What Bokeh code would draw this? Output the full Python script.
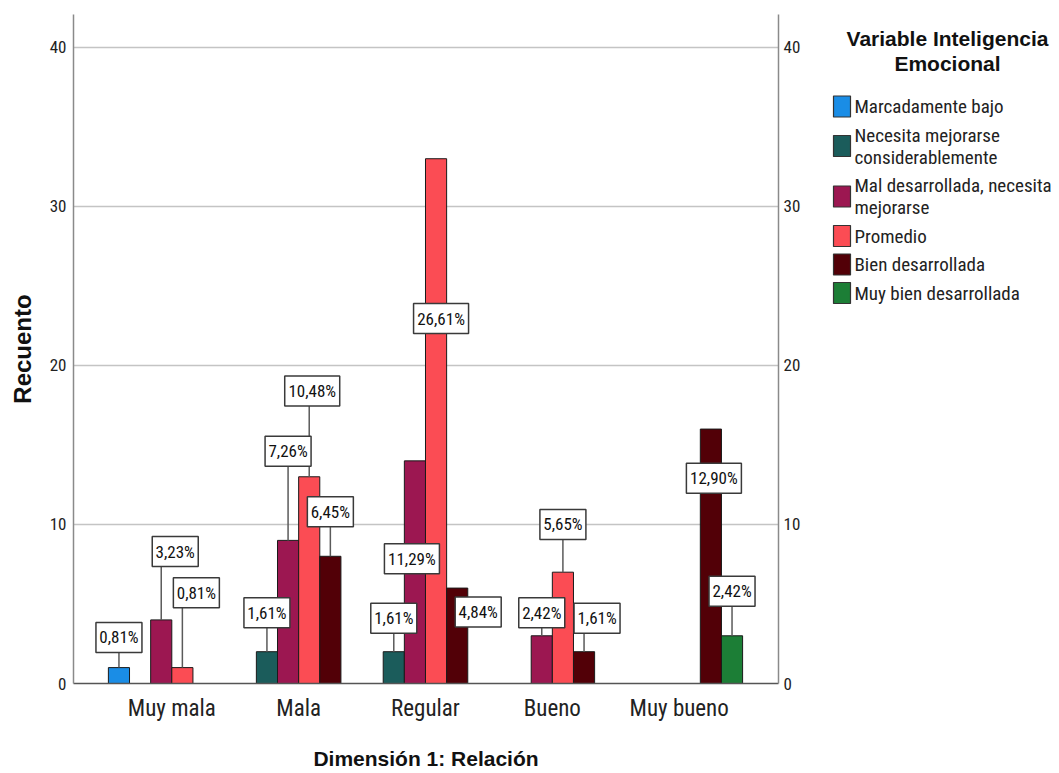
from bokeh.plotting import figure
from bokeh.models import Range1d, LinearAxis, FixedTicker, ColumnDataSource
from bokeh.layouts import row
from bokeh.embed import file_html
from bokeh.resources import INLINE
from bokeh.core.properties import value

# ---------------- data ----------------
categories = ["Muy mala", "Mala", "Regular", "Bueno", "Muy bueno"]
series_names = [
    "Marcadamente bajo",
    "Necesita mejorarse considerablemente",
    "Mal desarrollada, necesita mejorarse",
    "Promedio",
    "Bien desarrollada",
    "Muy bien desarrollada",
]
legend_lines = [
    ["Marcadamente bajo"],
    ["Necesita mejorarse", "considerablemente"],
    ["Mal desarrollada, necesita", "mejorarse"],
    ["Promedio"],
    ["Bien desarrollada"],
    ["Muy bien desarrollada"],
]
# counts per category (0 = no bar)
marcadamente_bajo = [1, 0, 0, 0, 0]
necesita_mejorarse = [0, 2, 2, 0, 0]
mal_desarrollada = [4, 9, 14, 3, 0]
promedio = [1, 13, 33, 7, 0]
bien_desarrollada = [0, 8, 6, 2, 16]
muy_bien_desarrollada = [0, 0, 0, 0, 3]
series_values = [marcadamente_bajo, necesita_mejorarse, mal_desarrollada,
                 promedio, bien_desarrollada, muy_bien_desarrollada]
y_ticks = [0, 10, 20, 30, 40]
legend_title = ["Variable Inteligencia", "Emocional"]
x_title = "Dimensión 1: Relación"
y_title = "Recuento"

# ---------------- styles / layout ----------------
colors = ["#1a8de6", "#1b5c5b", "#9c1751", "#fb4c54", "#520007", "#1c7e36"]
NARROW = "Roboto Condensed"
BOLD = "Liberation Sans"

# percentage-label placement: (label centre in count units, horizontal shift in px)
label_pos = {
    (0, 0): (2.9, 0), (2, 0): (8.3, 14), (3, 0): (5.7, 14),
    (1, 1): (4.45, 0), (2, 1): (14.6, 0), (3, 1): (18.4, 3), (4, 1): (10.8, 0),
    (1, 2): (4.1, 0), (2, 2): (7.85, -3), (3, 2): (22.95, 5), (4, 2): (4.5, 21),
    (2, 3): (4.45, 0), (3, 3): (10.0, 0), (4, 3): (4.1, 13),
    (4, 4): (12.9, 3), (5, 4): (5.8, 0),
}

W_MAIN, W_LEG, H = 808, 250, 772
B_TOP, B_BOTTOM = 14, 89
X0, X1 = -0.775, 4.783
Y1 = 42.07
frame_w = 705
px_per_unit = frame_w / (X1 - X0)

total = sum(sum(v) for v in series_values)
nser = len(series_names)

p = figure(width=W_MAIN, height=H, x_range=Range1d(X0, X1), y_range=Range1d(0, Y1),
           output_backend="svg", toolbar_location=None,
           min_border_left=73, min_border_right=30, min_border_top=B_TOP,
           min_border_bottom=B_BOTTOM)
p.outline_line_color = None
p.background_fill_color = "white"

# grid
p.xgrid.visible = False
p.ygrid.ticker = FixedTicker(ticks=[t for t in y_ticks if t > 0])
p.ygrid.grid_line_color = "#c4c4c4"
p.ygrid.grid_line_width = 1.5

# bars
bx, btop, bcol = [], [], []
for i, vals in enumerate(series_values):
    for j, v in enumerate(vals):
        if v > 0:
            bx.append(j + (i - (nser - 1) / 2) / nser)
            btop.append(v)
            bcol.append(colors[i])
p.vbar(x="x", top="top", width=1 / nser, bottom=0, fill_color="color",
       line_color="#1a1a1a", line_width=1,
       source=ColumnDataSource(dict(x=bx, top=btop, color=bcol)))

# percentage labels
lx, ly, ltxt, lw = [], [], [], []
sx0, sy0, sy1 = [], [], []
for i, vals in enumerate(series_values):
    for j, v in enumerate(vals):
        if v <= 0:
            continue
        xc = j + (i - (nser - 1) / 2) / nser
        yl, dx = label_pos[(i, j)]
        txt = f"{v / total * 100:.2f}".replace(".", ",") + "%"
        if yl > v:
            sx0.append(xc); sy0.append(v); sy1.append(yl)
        lx.append(xc + dx / px_per_unit)
        ly.append(yl)
        ltxt.append(txt)
        lw.append(46 if len(txt) <= 5 else 55)

p.segment(x0=sx0, y0=sy0, x1=sx0, y1=sy1, line_color="#5a5a5a", line_width=1.5)
p.rect(x=lx, y=ly, width=lw, height=30, width_units="screen", height_units="screen",
       fill_color="white", line_color="#3a3a3a", line_width=1.5)
p.text(x=lx, y=ly, text=ltxt, text_align="center", text_baseline="middle",
       text_font=value(NARROW), text_font_size="17px", text_color="#111111")

# axes
yax = p.yaxis[0]
yax.ticker = FixedTicker(ticks=y_ticks)
yax.major_tick_out = 0
yax.major_tick_in = 0
yax.minor_tick_out = 0
yax.minor_tick_in = 0
yax.axis_line_color = "#8a8a8a"
yax.axis_line_width = 1.5
yax.major_label_standoff = 7
yax.major_label_text_font = NARROW
yax.major_label_text_font_size = "17px"
yax.major_label_text_color = "#222222"
yax.axis_label = y_title
yax.axis_label_text_font = BOLD
yax.axis_label_text_font_style = "bold"
yax.axis_label_text_font_size = "24px"
yax.axis_label_text_color = "#111111"
yax.axis_label_standoff = 11

rax = LinearAxis(ticker=FixedTicker(ticks=y_ticks))
rax.major_tick_out = 0
rax.major_tick_in = 0
rax.minor_tick_out = 0
rax.minor_tick_in = 0
rax.axis_line_color = "#8a8a8a"
rax.axis_line_width = 1.5
rax.major_label_standoff = 5
rax.major_label_text_font = NARROW
rax.major_label_text_font_size = "17px"
rax.major_label_text_color = "#222222"
p.add_layout(rax, "right")

xax = p.xaxis[0]
xax.ticker = FixedTicker(ticks=list(range(len(categories))))
xax.major_label_overrides = {i: c for i, c in enumerate(categories)}
xax.major_tick_out = 0
xax.major_tick_in = 0
xax.minor_tick_out = 0
xax.minor_tick_in = 0
xax.axis_line_color = "#555555"
xax.axis_line_width = 1.5
xax.major_label_standoff = 11
xax.major_label_text_font = NARROW
xax.major_label_text_font_size = "23px"
xax.major_label_text_color = "#222222"
xax.axis_label = x_title
xax.axis_label_text_font = BOLD
xax.axis_label_text_font_style = "bold"
xax.axis_label_text_font_size = "21px"
xax.axis_label_text_color = "#111111"
xax.axis_label_standoff = 22

# ---------------- legend panel (frame aligned with the main frame) ----------------
leg = figure(width=W_LEG, height=H, x_range=Range1d(0, W_LEG),
             y_range=Range1d(H - B_BOTTOM, B_TOP),
             output_backend="svg", toolbar_location=None, x_axis_type=None, y_axis_type=None,
             min_border_left=0, min_border_right=0, min_border_top=B_TOP,
             min_border_bottom=B_BOTTOM)
leg.outline_line_color = None
leg.xgrid.visible = False
leg.ygrid.visible = False

leg.text(x=[139, 139], y=[38, 63], text=legend_title,
         text_align="center", text_baseline="middle", text_font=value(BOLD),
         text_font_style="bold", text_font_size="21px", text_color="#111111")

tx, ty, tt = [], [], []
qb, qt, qc = [], [], []
y = 106
for i, lines in enumerate(legend_lines):
    ys = [y + 22 * k for k in range(len(lines))]
    for yy, t in zip(ys, lines):
        tx.append(46); ty.append(yy); tt.append(t)
    mid = (ys[0] + ys[-1]) / 2
    qb.append(mid + 10.5); qt.append(mid - 10.5); qc.append(colors[i])
    y = ys[-1] + 28.5
leg.quad(left=25, right=42, top=qt, bottom=qb, fill_color=qc, line_color="#333333", line_width=1.2)
leg.text(x=tx, y=ty, text=tt, text_align="left", text_baseline="middle",
         text_font=value(NARROW), text_font_size="19px", text_color="#222222")

layout = row(p, leg)
open("out.html", "w").write(file_html(layout, INLINE))
